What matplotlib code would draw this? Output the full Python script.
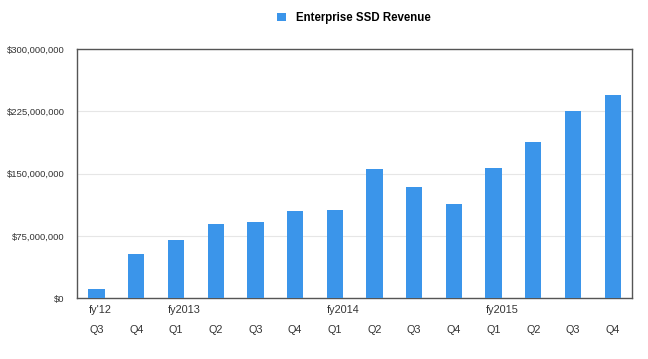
import numpy as np
import matplotlib.pyplot as plt
from matplotlib.transforms import blended_transform_factory

plt.rcParams["font.family"] = ["Liberation Sans", "DejaVu Sans"]

quarters = ["Q3", "Q4", "Q1", "Q2", "Q3", "Q4", "Q1", "Q2", "Q3", "Q4", "Q1", "Q2", "Q3", "Q4"]
years = {0: "fy'12", 2: "fy2013", 6: "fy2014", 10: "fy2015"}
revenue = [10.8e6, 53.7e6, 69.8e6, 89e6, 92e6, 104.7e6, 106.7e6, 155.6e6,
           134.3e6, 113e6, 156.8e6, 188e6, 226e6, 245e6]
yticks = [0, 75e6, 150e6, 225e6, 300e6]

fig = plt.figure(figsize=(6.48, 3.59), dpi=100)
ax = fig.add_axes([0.119, 0.169, 0.856, 0.6945])

x = np.arange(len(revenue))
width = 0.41
ax.bar(x, revenue, width=width, color="#3b95ea", label="Enterprise SSD Revenue", zorder=3)

ax.set_xlim(-0.49, 13.48)
ax.set_ylim(0, 300e6)
ax.set_yticks(yticks)
ax.set_yticklabels(["${:,.0f}".format(v) for v in yticks], fontsize=6.8, color="#333333")
ax.set_xticks([])
ax.tick_params(axis="y", length=0, pad=9)
ax.grid(axis="y", color="#e6e6e6", linewidth=0.8, zorder=0)
for s in ax.spines.values():
    s.set_color("#555555")
    s.set_linewidth(1.0)

trans = blended_transform_factory(ax.transData, ax.transAxes)
for i, q in enumerate(quarters):
    ax.text(i, -0.127, q, transform=trans, ha="center", va="center", fontsize=7.8, color="#333333")
for i, y in years.items():
    ax.text(i - width / 2, -0.047, y, transform=trans, ha="left", va="center", fontsize=7.8, color="#333333")

fig.legend(loc="center", bbox_to_anchor=(0.546, 0.95), frameon=False,
           handlelength=0.75, handleheight=0.75, handletextpad=0.9,
           prop={"size": 8.3, "weight": "bold"})

fig.savefig("out.png", dpi=100)
